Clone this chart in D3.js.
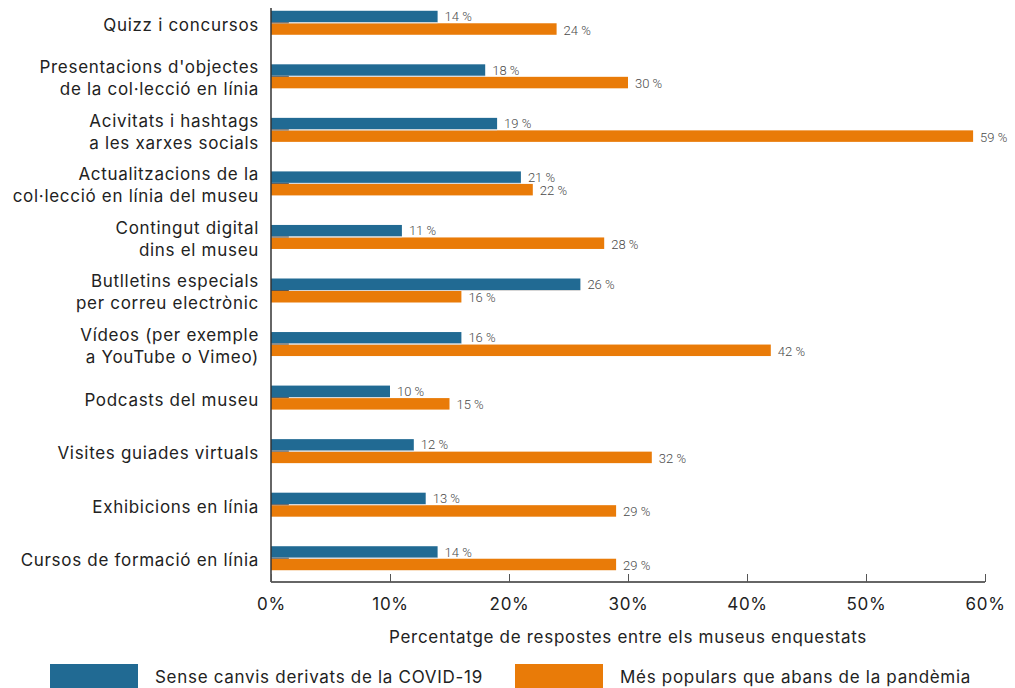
<!DOCTYPE html>
<html>
<head>
<meta charset="utf-8">
<script src="https://cdn.jsdelivr.net/npm/d3@7"></script>
<style>
  body { margin: 0; background: #fff; }
  svg { display: block; }
</style>
</head>
<body>
<svg id="chart" width="1015" height="688"></svg>
<script>
// categories (each entry is the lines of the label)
const categories = [
  ["Quizz i concursos"],
  ["Presentacions d'objectes", "de la col·lecció en línia"],
  ["Acivitats i hashtags", "a les xarxes socials"],
  ["Actualitzacions de la", "col·lecció en línia del museu"],
  ["Contingut digital", "dins el museu"],
  ["Butlletins especials", "per correu electrònic"],
  ["Vídeos (per exemple", "a YouTube o Vimeo)"],
  ["Podcasts del museu"],
  ["Visites guiades virtuals"],
  ["Exhibicions en línia"],
  ["Cursos de formació en línia"]
];
const noChange = [14, 18, 19, 21, 11, 26, 16, 10, 12, 13, 14];
const morePopular = [24, 30, 59, 22, 28, 16, 42, 15, 32, 29, 29];
const seriesNames = ["Sense canvis derivats de la COVID-19", "Més populars que abans de la pandèmia"];
const xTicks = [0, 10, 20, 30, 40, 50, 60];
const axisTitle = "Percentatge de respostes entre els museus enquestats";

const colors = ["#216a93", "#e97b08"];
const font = "Inter, Roboto, sans-serif";
const spacing = "0.7px";

var svg = d3.select("svg#chart"),
  margin = {left: 271, right: 30},
  width = 1015 - margin.left - margin.right;

var keys = categories.map(function(d) { return d.join(" "); });

var x = d3.scaleLinear().domain([0, 60]).range([margin.left, margin.left + width]);
var y = d3.scaleBand().domain(keys).range([-4, 585]);

var barH = 11.5;
var axisY = 582;

var rows = keys.map(function(k, i) {
  return {key: k, lines: categories[i], vals: [noChange[i], morePopular[i]]};
});

var g = svg.append("g");

var row = g.selectAll(".row")
  .data(rows)
  .enter().append("g")
  .attr("class", "row")
  .attr("transform", function(d) { return "translate(0," + (y(d.key) + y.bandwidth() / 2) + ")"; });

// bars
row.selectAll("rect.bar")
  .data(function(d) { return d.vals.map(function(v, j) { return {v: v, j: j}; }); })
  .enter().append("rect")
  .attr("class", "bar")
  .attr("x", x(0))
  .attr("y", function(d) { return d.j === 0 ? -barH - 0.5 : 0.5; })
  .attr("width", function(d) { return x(d.v) - x(0); })
  .attr("height", barH)
  .attr("fill", function(d) { return colors[d.j]; });

// thin gap line between the two bars
row.append("line")
  .attr("x1", x(0)).attr("x2", function(d) { return x(d.vals[0]); })
  .attr("y1", 0).attr("y2", 0)
  .attr("stroke", "#d6d6d6").attr("stroke-width", 1);
row.append("line")
  .attr("x1", x(0)).attr("x2", x(1.5))
  .attr("y1", 0).attr("y2", 0)
  .attr("stroke", "#555").attr("stroke-width", 1);

// value labels
row.selectAll("text.val")
  .data(function(d) { return d.vals.map(function(v, j) { return {v: v, j: j}; }); })
  .enter().append("text")
  .attr("class", "val")
  .attr("x", function(d) { return x(d.v) + 7; })
  .attr("y", function(d) { return d.j === 0 ? -barH / 2 - 0.5 : barH / 2 + 1.5; })
  .attr("dy", "0.35em")
  .style("font", "300 13px Roboto, sans-serif")
  .style("fill", "#4a4a4a")
  .text(function(d) { return d.v + " %"; });

// category labels
row.append("text")
  .attr("x", margin.left - 12)
  .attr("text-anchor", "end")
  .style("font", "17px " + font)
  .style("letter-spacing", spacing)
  .style("fill", "#222")
  .each(function(d) {
    var t = d3.select(this), n = d.lines.length;
    d.lines.forEach(function(l, i) {
      t.append("tspan")
        .attr("x", margin.left - 12)
        .attr("y", (i - (n - 1) / 2) * 22 + 2)
        .attr("dy", "0.35em")
        .text(l);
    });
  });

// y axis line
g.append("line")
  .attr("x1", x(0)).attr("x2", x(0))
  .attr("y1", 8).attr("y2", axisY)
  .attr("stroke", "#333").attr("stroke-width", 1.5);

// x axis
var xAxis = g.append("g")
  .attr("transform", "translate(0," + axisY + ")")
  .call(d3.axisBottom(x).tickValues(xTicks).tickSize(-8).tickPadding(16)
    .tickFormat(function(d) { return d + "%"; }));
xAxis.select(".domain").attr("stroke", "#333").attr("stroke-width", 1.5).attr("d", "M" + x(0) + ",0H" + x(60));
xAxis.selectAll(".tick line").attr("stroke", "#555");
xAxis.selectAll(".tick text")
  .style("font", "17px " + font)
  .style("letter-spacing", spacing)
  .style("fill", "#222");

g.append("text")
  .attr("x", (x(0) + x(60)) / 2)
  .attr("y", 637)
  .attr("dy", "0.35em")
  .attr("text-anchor", "middle")
  .style("font", "17px " + font)
  .style("letter-spacing", spacing)
  .style("fill", "#222")
  .text(axisTitle);

// legend
var legendX = [50, 515];
var legend = g.selectAll(".legend")
  .data(seriesNames)
  .enter().append("g")
  .attr("class", "legend")
  .attr("transform", function(d, i) { return "translate(" + legendX[i] + ",664)"; });
legend.append("rect")
  .attr("width", 88).attr("height", 26)
  .attr("fill", function(d, i) { return colors[i]; });
legend.append("text")
  .attr("x", 105).attr("y", 13)
  .attr("dy", "0.35em")
  .style("font", "17px " + font)
  .style("letter-spacing", spacing)
  .style("fill", "#222")
  .text(function(d) { return d; });
</script>
</body>
</html>
